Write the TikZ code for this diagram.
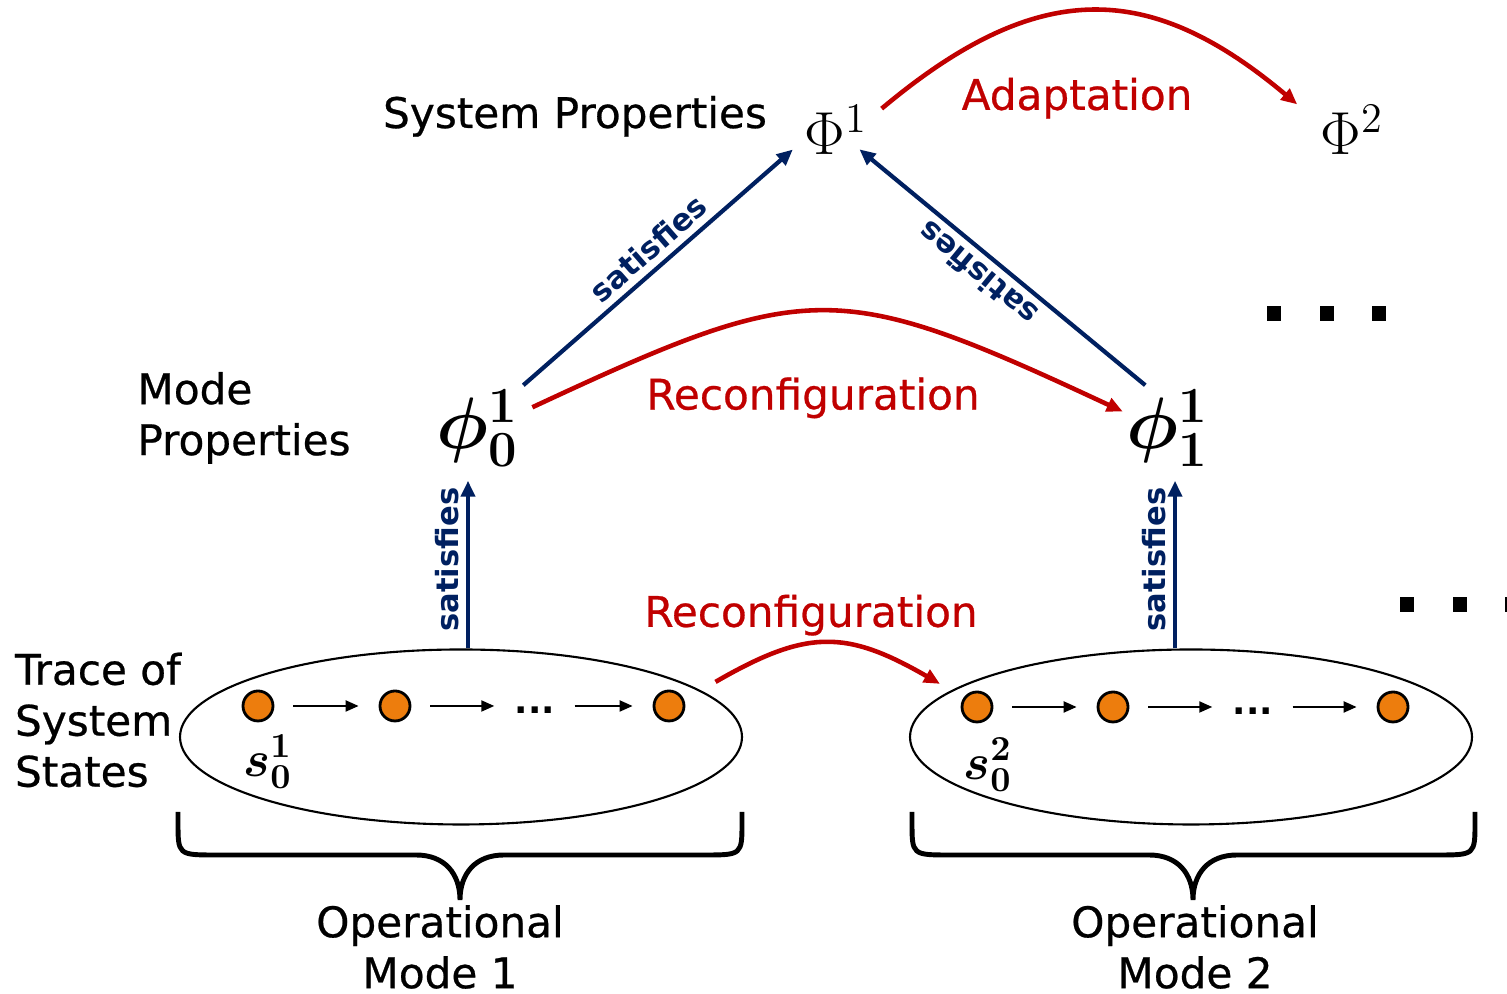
\documentclass[tikz,border=0pt]{standalone}
\usepackage[no-math]{fontspec}
\setmainfont{DejaVu Sans}[UprightFeatures={FakeBold=0.6}]
\usepackage{amsmath,bm}
\usetikzlibrary{arrows.meta,positioning,calc,shapes.geometric}
\definecolor{satblue}{RGB}{0,32,96}
\definecolor{recred}{RGB}{192,0,0}
\definecolor{stateorange}{RGB}{237,125,13}

\begin{document}
\begin{tikzpicture}[>={Triangle[length=1.6mm,width=1.4mm]},font=\fontsize{12}{14.5}\selectfont]
\tikzstyle{sat}=[->,satblue,line width=1.2pt,shorten >=1mm]
\tikzstyle{satlbl}=[font=\fontsize{8.7}{10}\selectfont\bfseries,text=satblue,inner sep=2pt]
\tikzstyle{rec}=[->,recred,line width=1.3pt]
\tikzstyle{st}=[circle,draw,line width=0.8pt,fill=stateorange,minimum size=3mm,inner sep=0pt]
\tikzstyle{nx}=[-{Triangle[length=1.3mm,width=1.1mm]},line width=0.6pt,shorten <=1.9mm,shorten >=2mm]
\tikzstyle{tr}=[ellipse,draw,line width=0.6pt,minimum width=5.62cm,minimum height=1.75cm,inner sep=0pt]
\tikzstyle{big}=[font=\fontsize{20}{24}\selectfont,inner sep=1pt]
\tikzstyle{sysphi}=[font=\fontsize{17}{19}\selectfont,inner sep=1pt]
\useasboundingbox (0,0) rectangle (15.07,9.94);
\node[anchor=base] (sysprop) at (5.75,8.66) {System Properties};
\node[align=left] (modeprop) at (2.44,5.76) {Mode\\Properties};
\node[align=left] (trace) at (0.98,2.74) {Trace of\\System\\States};
\node[sysphi] (P1) at (8.36,8.64) {$\Phi^1$};
\node[sysphi] (P2) at (13.52,8.64) {$\Phi^2$};
\node[big] (f0) at (4.78,5.66) {$\bm{\phi_0^1}$};
\node[big] (f1) at (11.68,5.66) {$\bm{\phi_1^1}$};
\node[tr] (tr1) at (4.61,2.57) {};
\node[tr] (tr2) at (11.91,2.57) {};
\foreach \n/\x in {a/2.58,b/3.95,c/6.69} \node[st] (s1\n) at (\x,2.88) {};
\foreach \n/\x in {a/9.77,b/11.13,c/13.93} \node[st] (s2\n) at (\x,2.87) {};
\node[anchor=base,inner sep=0pt,font=\bfseries] (d1) at (5.35,2.80) {...};
\node[anchor=base,inner sep=0pt,font=\bfseries] (d2) at (12.53,2.79) {...};
\draw[nx] (s1a) -- (s1b);
\draw[nx] (s1b) -- (s1b -| d1.west);
\draw[nx] (d1.east |- s1c) -- (s1c);
\draw[nx] (s2a) -- (s2b);
\draw[nx] (s2b) -- (s2b -| d2.west);
\draw[nx] (d2.east |- s2c) -- (s2c);
\node[font=\fontsize{14}{16}\selectfont] (l1) at (2.68,2.32) {$\bm{s_0^1}$};
\node[font=\fontsize{14}{16}\selectfont] (l2) at (9.88,2.29) {$\bm{s_0^2}$};
\draw[sat] ([xshift=0.7mm]tr1.north) -- ([xshift=0.7mm]tr1.north |- f0.south) node[midway,above,sloped,satlbl] {satisfies};
\draw[sat] ([xshift=-1.6mm]tr2.north) -- ([xshift=-1.6mm]tr2.north |- f1.south) node[midway,above,sloped,satlbl] {satisfies};
\draw[sat] (f0.north east) -- (P1.-160) node[midway,above,sloped,satlbl] {satisfies};
\draw[sat] (f1.118) -- ([xshift=-2mm]P1.-20) node[midway,above,sloped,allow upside down,satlbl,xshift=1mm] {satisfies};
\draw[rec,shorten <=1mm] (f0.20) to[out=25,in=155,looseness=1.35] node[midway,below=5.2mm,xshift=-1mm] {Reconfiguration} (f1.160);
\draw[rec,shorten <=1.3mm,shorten >=2.5mm] (P1.20) to[out=40,in=140,looseness=1.25] node[midway,below=5mm,xshift=-1.7mm] {Adaptation} (P2.165);
\draw[rec,shorten <=1.7mm,shorten >=1.3mm] (tr1.11) to[out=30,in=150,looseness=1.25] node[midway,above=-0.5mm,xshift=-1.5mm] {Reconfiguration} (tr2.169);
\foreach \l/\m/\r in {1.78/4.60/7.42,9.12/11.93/14.75}
  \draw[line width=1.4pt] (\l,1.82) -- (\l,1.72) .. controls (\l,1.39) .. (\l+0.38,1.39) -- (\m-0.44,1.39) .. controls (\m-0.15,1.39) and (\m,1.2) .. (\m,0.94) .. controls (\m,1.2) and (\m+0.15,1.39) .. (\m+0.44,1.39) -- (\r-0.38,1.39) .. controls (\r,1.39) .. (\r,1.72) -- (\r,1.82);
\node[align=center] (om1) at (4.40,0.47) {Operational\\Mode 1};
\node[align=center] (om2) at (11.95,0.47) {Operational\\Mode 2};
\foreach \x in {12.67,13.20,13.72} \fill (\x,6.73) rectangle +(0.14,0.15);
\foreach \x in {14.00,14.53,15.05} \fill (\x,3.82) rectangle +(0.14,0.15);
\end{tikzpicture}
\end{document}
